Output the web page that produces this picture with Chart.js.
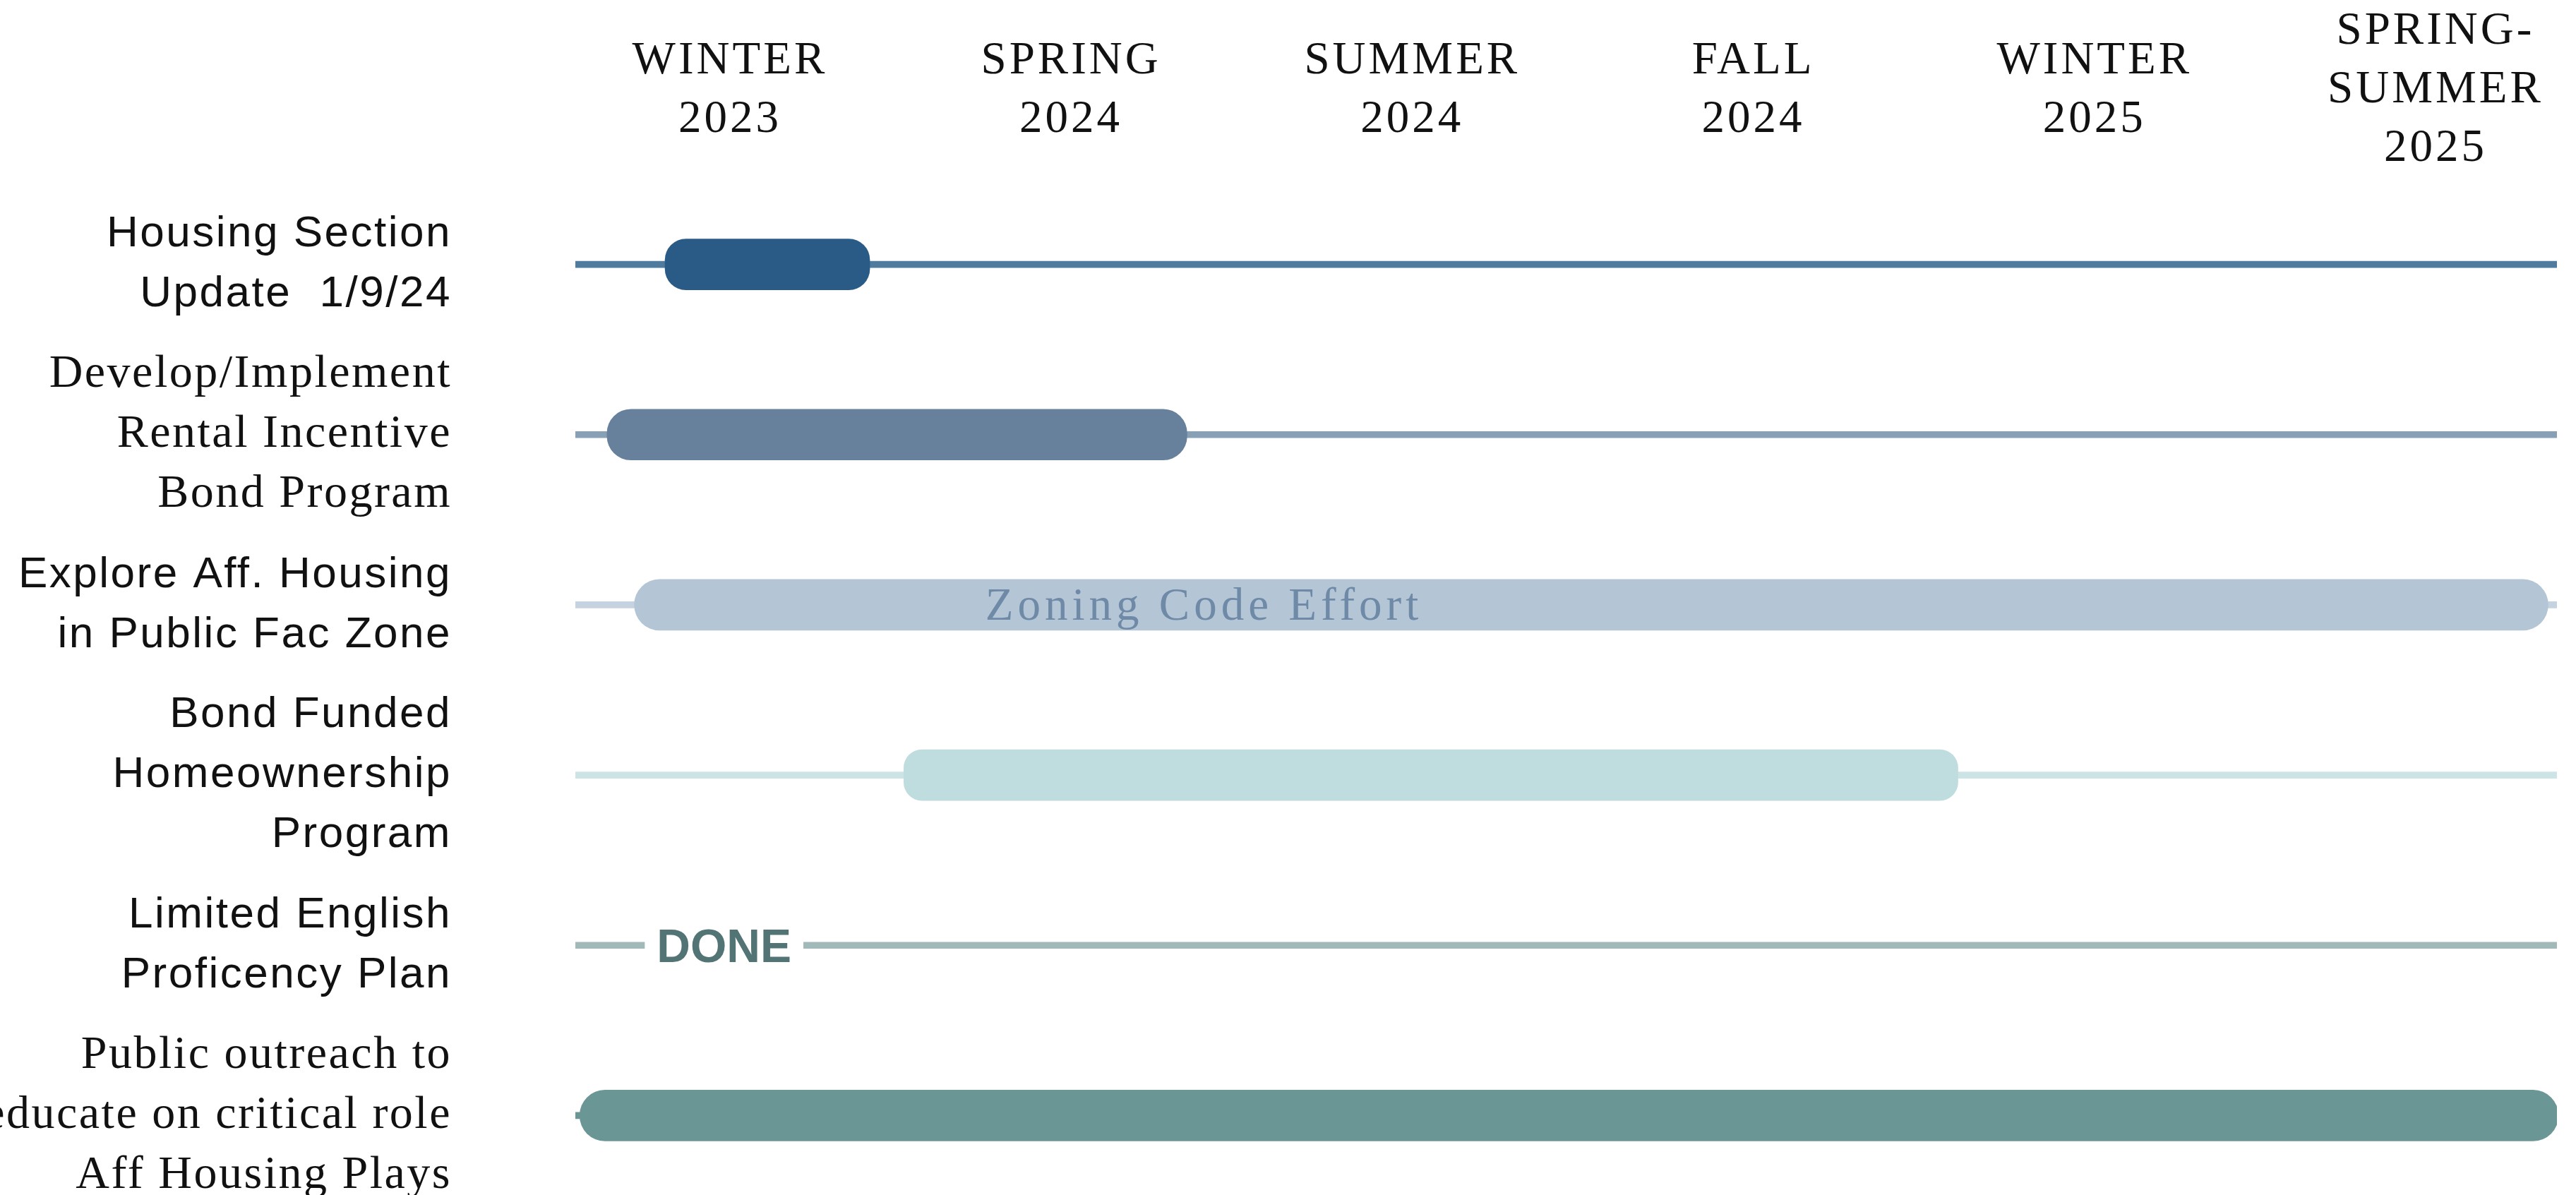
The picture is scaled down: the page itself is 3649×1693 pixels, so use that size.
<!DOCTYPE html>
<html>
<head>
  <title>Housing Work Plan Timeline</title>
  <script src="https://cdn.jsdelivr.net/npm/chart.js@4/dist/chart.umd.min.js"></script>
  <style>
    body {
      margin: 0;
      background: #fff;
      overflow: hidden;
    }
    .wrap {
      width: 3649px;
      height: 1701px;
    }
  </style>
</head>
<body>
  <div class="wrap"><canvas id="chart"></canvas></div>

  <script>
    // columns of the timeline (0 = Winter 2023 ... 5 = Spring-Summer 2025)
    const seasons = [
      ['WINTER', '2023'],
      ['SPRING', '2024'],
      ['SUMMER', '2024'],
      ['FALL', '2024'],
      ['WINTER', '2025'],
      ['SPRING-', 'SUMMER', '2025']
    ];
    const tasks = [
      ['Housing Section', 'Update  1/9/24'],
      ['Develop/Implement', 'Rental Incentive', 'Bond Program'],
      ['Explore Aff. Housing', 'in Public Fac Zone'],
      ['Bond Funded', 'Homeownership', 'Program'],
      ['Limited English', 'Proficency Plan'],
      ['Public outreach to', 'educate on critical role', 'Aff Housing Plays']
    ];
    // start / end of each task, in season units
    const taskStart = [-0.19, -0.36, -0.28, 0.51, null, -0.44];
    const taskEnd = [0.41, 1.34, 5.33, 3.60, null, 5.36];
    const timelineStart = -0.453;
    const timelineEnd = 5.356;
    // text notes on the rows
    const noteText = ['Zoning Code Effort', 'DONE'];
    const noteRow = [2, 4];
    const noteAt = [1.39, -0.017];

    // styles
    const barColors = ['#2a5b86', '#67819c', '#b4c5d5', '#bfdcdf', '#a2b9ba', '#6a9696'];
    const trackColors = ['#4f7b9f', '#87a0b6', '#c4d3df', '#cde4e6', '#a2b9ba', '#6a9696'];
    const barRadius = [30, 34, 36, 26, 0, 36];
    const serifRows = [1, 5];
    const noteStyle = [
      { font: '65px "Liberation Serif", serif', color: '#6f8aa7', spacing: '6px', cap: 0.66, knockout: false },
      { font: 'bold 66px "Liberation Sans", sans-serif', color: '#527475', spacing: '0px', cap: 0.716, knockout: true }
    ];

    const notesPlugin = {
      id: 'notes',
      beforeDraw(chart) {
        chart.ctx.letterSpacing = '4px';
      },
      beforeDatasetsDraw(chart) {
        chart.ctx.letterSpacing = '0px';
      },
      afterDatasetsDraw(chart) {
        const ctx = chart.ctx;
        const x = chart.scales.x;
        const y = chart.scales.y;
        noteText.forEach((text, i) => {
          const st = noteStyle[i];
          const px = x.getPixelForValue(noteAt[i]);
          const py = y.getPixelForValue(noteRow[i]);
          ctx.save();
          ctx.font = st.font;
          ctx.letterSpacing = st.spacing;
          ctx.textAlign = 'center';
          ctx.textBaseline = 'alphabetic';
          if (st.knockout) {
            const w = ctx.measureText(text).width;
            ctx.fillStyle = '#fff';
            ctx.fillRect(px - w / 2 - 17, py - 20, w + 34, 40);
          }
          ctx.fillStyle = st.color;
          const size = parseFloat(st.font.replace('bold ', ''));
          ctx.fillText(text, px, py + st.cap * size / 2);
          ctx.restore();
        });
        // y labels are drawn after this
        ctx.letterSpacing = '2.5px';
      }
    };

    const ctx = document.getElementById('chart').getContext('2d');
    new Chart(ctx, {
      type: 'bar',
      data: {
        labels: tasks,
        datasets: [{
          label: 'Phase',
          data: taskStart.map((s, i) => s === null ? null : [s, taskEnd[i]]),
          backgroundColor: barColors,
          borderRadius: barRadius,
          borderSkipped: false,
          barThickness: 72,
          grouped: false,
          order: 1
        }, {
          label: 'Track',
          data: tasks.map(() => [timelineStart, timelineEnd]),
          backgroundColor: trackColors,
          barThickness: 9,
          grouped: false,
          order: 2
        }]
      },
      options: {
        indexAxis: 'y',
        responsive: true,
        maintainAspectRatio: false,
        animation: false,
        events: [],
        layout: {
          autoPadding: false,
          padding: { top: 0, right: 27, bottom: 0, left: 0 }
        },
        plugins: {
          legend: { display: false },
          tooltip: { enabled: false }
        },
        scales: {
          x: {
            type: 'linear',
            position: 'top',
            min: timelineStart,
            max: timelineEnd,
            grid: { display: false },
            border: { display: false },
            afterBuildTicks: (axis) => {
              axis.ticks = seasons.map((s, i) => ({ value: i }));
            },
            afterFit: (axis) => {
              axis.height = 254;
              axis.paddingLeft = 0;
              axis.paddingRight = 0;
            },
            ticks: {
              autoSkip: false,
              maxRotation: 0,
              minRotation: 0,
              padding: 35,
              crossAlign: 'center',
              color: '#111',
              font: { family: '"Liberation Serif", "Times New Roman", serif', size: 65, lineHeight: '83px' },
              callback: (v) => seasons[v]
            }
          },
          y: {
            type: 'category',
            grid: { display: false },
            border: { display: false },
            afterFit: (axis) => {
              axis.width = 815;
              axis.paddingTop = 0;
              axis.paddingBottom = 0;
            },
            ticks: {
              autoSkip: false,
              padding: 167,
              color: '#111',
              z: 1,
              font: (c) => serifRows.includes(c.index)
                ? { family: '"Liberation Serif", "Times New Roman", serif', size: 66, lineHeight: '85px' }
                : { family: '"Liberation Sans", Arial, sans-serif', size: 62, lineHeight: '85px' }
            }
          }
        }
      },
      plugins: [notesPlugin]
    });
  </script>
</body>
</html>
